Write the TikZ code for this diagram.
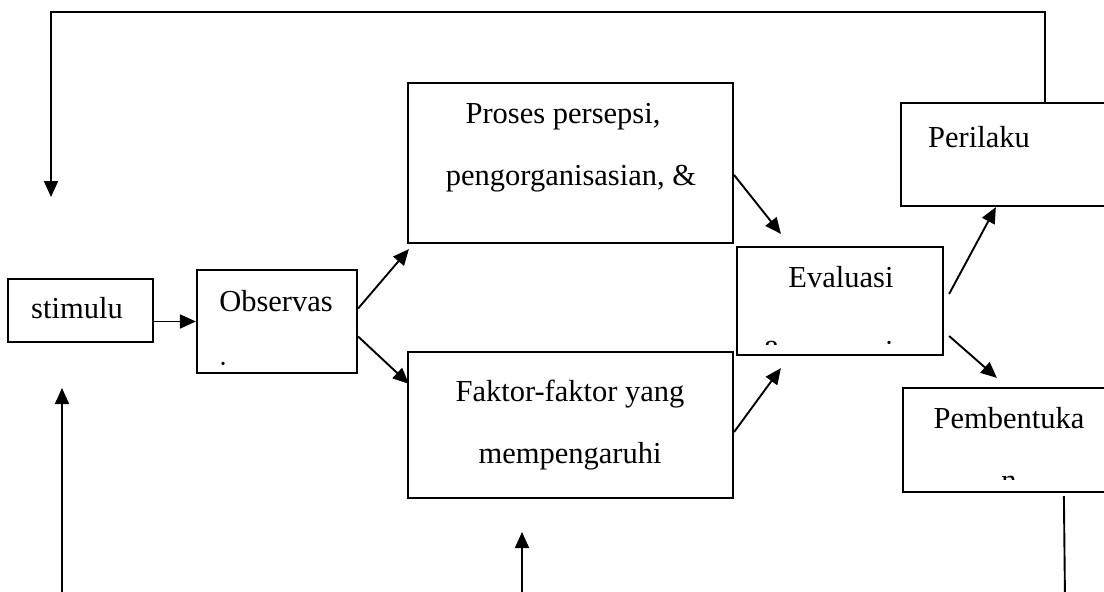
\documentclass[tikz,border=0pt]{standalone}
\usepackage{fontspec}
\setmainfont{Liberation Serif}
\usetikzlibrary{arrows.meta}
\begin{document}
\begin{tikzpicture}[x=1pt,y=-1pt,
  box/.style={draw, line width=2.2pt, inner sep=0pt, rectangle},
  txt/.style={inner sep=0pt, font=\fontsize{30.5pt}{36pt}\selectfont},
  arr/.style={line width=1.9pt, -{Triangle[length=16pt,width=14pt]}},
  plain/.style={line width=1.9pt}]
\clip (0,0) rectangle (1104,592);
\fill[white] (0,0) rectangle (1104,592);

% boxes
\node[box, minimum width=145pt, minimum height=63pt]  (stim) at (80.5,310.5) {};
\node[box, minimum width=160pt, minimum height=103pt] (obs)  at (277,321.5) {};
\node[box, minimum width=325pt, minimum height=160pt] (pro)  at (570.5,163) {};
\node[box, minimum width=325pt, minimum height=146pt] (fak)  at (570.5,425) {};
\node[box, minimum width=206pt, minimum height=108pt] (eva)  at (840,301) {};
\node[box, minimum width=214pt, minimum height=103pt] (per)  at (1008,154.5) {};
\node[box, minimum width=212pt, minimum height=104pt] (pem)  at (1009,440) {};

% labels
\node[txt, anchor=base] (stimT) at (77,318) {stimulu};
\node[txt, anchor=base] (obsT)  at (276,311) {Observas};
\node[txt, anchor=base] (proT1) at (563,123) {Proses persepsi,};
\node[txt, anchor=base] (proT2) at (571,185) {pengorganisasian, \&};
\node[txt, anchor=base] (fakT1) at (570,401) {Faktor-faktor yang};
\node[txt, anchor=base] (fakT2) at (570,463) {mempengaruhi};
\node[txt, anchor=base] (evaT)  at (841,287) {Evaluasi};
\node[txt, anchor=base] (perT)  at (979,147) {Perilaku};
\node[txt, anchor=base] (pemT)  at (1009,428) {Pembentuka};

% second lines cut off by the box margins
\begin{scope}
  \clip (197,270) rectangle (357,367);
  \node[txt, anchor=base west] (obsT2) at (219,382) {i};
\end{scope}
\begin{scope}
  \clip (737,247) rectangle (943,344.5);
  \node[txt, anchor=base west] (evaT2) at (762,361.5) {\& persepsi};
\end{scope}
\begin{scope}
  \clip (903,388) rectangle (1104,479.5);
  \node[txt, anchor=base] (pemT2) at (1009,490) {n};
\end{scope}

% connectors
\draw[arr] (stim.east |- obs.west) -- (obs.west);
\draw[arr] ([yshift=13pt]obs.east) -- ([shift={(2pt,-5pt)}]pro.south west);
\draw[arr] ([yshift=-15pt]obs.east) -- ([shift={(2pt,-33pt)}]fak.north west);
\draw[arr] ([yshift=-12pt]pro.east) -- ([shift={(45pt,12pt)}]eva.north west);
\draw[arr] ([yshift=-7pt]fak.east) -- ([shift={(45pt,-12pt)}]eva.south west);
\draw[arr] ([shift={(5pt,7pt)}]eva.east) -- ([xshift=96pt]per.south west);
\draw[arr] ([shift={(5pt,-35pt)}]eva.east) -- ([shift={(95pt,9pt)}]pem.north west);

% feedback loop over the top
\coordinate (fbtop) at (51,197);
\draw[arr] ([xshift=145pt]per.north west) -- ++(0,-90) -| (fbtop);

% lines coming in from below
\coordinate (lbA) at (62,600);
\coordinate (lbB) at (62,388);
\draw[arr] (lbA) -- (lbB);
\coordinate (mbA) at (522,600);
\coordinate (mbB) at (522,532);
\draw[arr] (mbA) -- (mbB);
\coordinate (rbB) at (1065,600);
\draw[plain] ([shift={(162pt,-3pt)}]pem.south west) -- (rbB);
\end{tikzpicture}
\end{document}
